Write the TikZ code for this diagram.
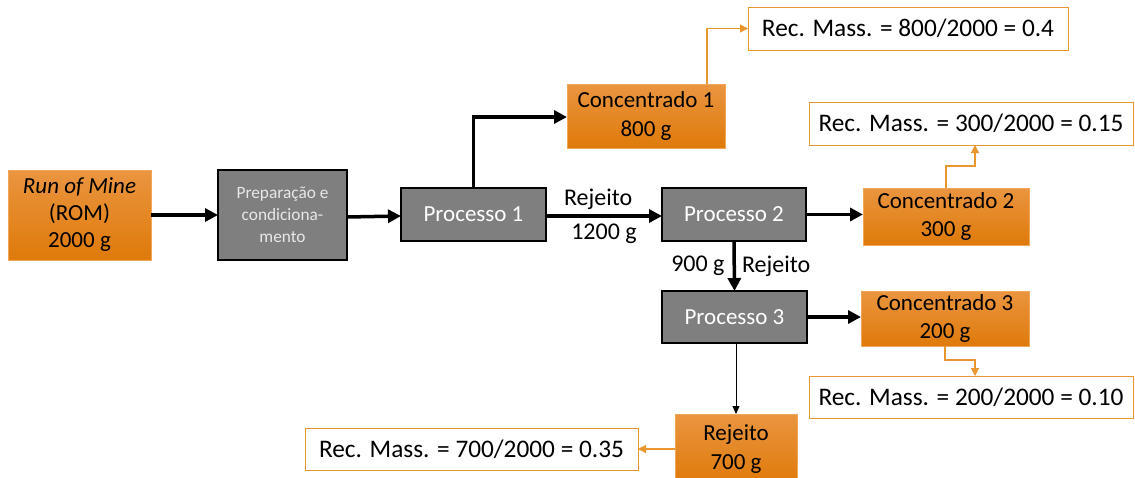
\documentclass[tikz,border=0pt]{standalone}
\usepackage{fontspec}
\setmainfont{Carlito}
\usetikzlibrary{arrows.meta,calc}
\definecolor{orTop}{HTML}{EA9540}
\definecolor{orBot}{HTML}{DF7A0A}
\definecolor{orLine}{HTML}{F2A65A}
\definecolor{orArrow}{HTML}{E8962E}
\definecolor{procFill}{HTML}{7F7F7F}
\definecolor{prepText}{HTML}{E8E8E8}
\tikzset{
  box/.style={rectangle, inner sep=2pt, outer sep=0pt, align=center},
  orbox/.style={box, top color=orTop, bottom color=orBot, draw=orLine, line width=0.8pt, text=black, font=\fontsize{23}{28.5}\selectfont},
  procbox/.style={box, fill=procFill, draw=black, line width=1.5pt, text=white, font=\fontsize{23}{27}\selectfont},
  prepbox/.style={box, fill=procFill, draw=black, line width=1.5pt, text=prepText, font=\fontsize{17.3}{22}\selectfont},
  recbox/.style={box, fill=white, draw=orArrow, line width=1pt, text=black, font=\fontsize{25.3}{30}\selectfont},
  flow/.style={line width=3.5pt, -{Triangle[length=13pt,width=13pt]}},
  thinflow/.style={line width=1pt, -{Triangle[length=8pt,width=7pt]}},
  recflow/.style={draw=orArrow, line width=1.2pt, -{Triangle[length=8pt,width=8pt]}},
  lbl/.style={font=\fontsize{24}{28}\selectfont, inner sep=0pt},
}
\begin{document}
\begin{tikzpicture}[x=1pt,y=-1pt]
\useasboundingbox (0,0) rectangle (1135,477);

% feed and preparation
\node[orbox, minimum width=143, minimum height=90, font=\fontsize{23}{27}\selectfont] (rom) at (79.5,215)
  {\textit{Run of Mine}\\(ROM)\\2000 g};
\node[prepbox, minimum width=129, minimum height=90] (prep) at (282.5,215)
  {Preparação e\\condiciona-\\mento};

% processing stages
\node[procbox, minimum width=145, minimum height=53] (p1) at (473.5,214.5) {Processo 1};
\node[procbox, minimum width=144, minimum height=53] (p2) at (734,214.5) {Processo 2};
\node[procbox, minimum width=145, minimum height=52] (p3) at (734.5,317) {Processo 3};

% products
\node[orbox, minimum width=158, minimum height=64] (c1) at (646,116) {Concentrado 1\\800 g};
\node[orbox, minimum width=166, minimum height=57] (c2) at (946,216.5) {Concentrado 2\\300 g};
\node[orbox, minimum width=168, minimum height=55] (c3) at (945,318.5) {Concentrado 3\\200 g};
\node[orbox, minimum width=122, minimum height=70] (rej) at (736,449) {Rejeito\\700 g};

% mass recovery boxes
\node[recbox, minimum width=320, minimum height=43] (r1) at (908,28.5) {Rec. Mass. = 800/2000 = 0.4};
\node[recbox, minimum width=324, minimum height=43] (r2) at (971,123.5) {Rec. Mass. = 300/2000 = 0.15};
\node[recbox, minimum width=324, minimum height=42] (r3) at (971,397) {Rec. Mass. = 200/2000 = 0.10};
\node[recbox, minimum width=333, minimum height=42] (r4) at (471.5,449) {Rec. Mass. = 700/2000 = 0.35};

% main flow
\draw[flow] (rom.east) -- (prep.west);
\draw[flow] ([yshift=-2]prep.east) -- ([yshift=-1.5]p1.west);
\draw[flow] (p1.north) |- ([yshift=-1]c1.west);
\draw[flow] ([yshift=-1.5]p1.east) -- ([yshift=-1.5]p2.west)
  node[lbl, pos=0.45, above=5pt] (l1) {Rejeito}
  node[lbl, pos=0.5, below=6pt] (l2) {1200 g};
\draw[flow] (p2.east) -- (p2.east -| c2.west);
\draw[flow] (p2.south) -- (p3.north)
  node[lbl, midway, left=8pt] (l3) {900 g}
  node[lbl, midway, right=6pt] (l4) {Rejeito};
\draw[flow] (p3.east) -- (p3.east -| c3.west);
\draw[thinflow] ([xshift=1.5]p3.south) -- (rej.north);

% recovery links
\draw[recflow] ([xshift=61]c1.north) |- (r1.west);
\draw[recflow] (c2.north) -- ++(0,-22) -| ([xshift=4]r2.south);
\draw[recflow] (c3.south) -- ++(0,14) -| ([xshift=4]r3.north);
\draw[recflow] (rej.west |- r4.east) -- (r4.east);
\end{tikzpicture}
\end{document}
